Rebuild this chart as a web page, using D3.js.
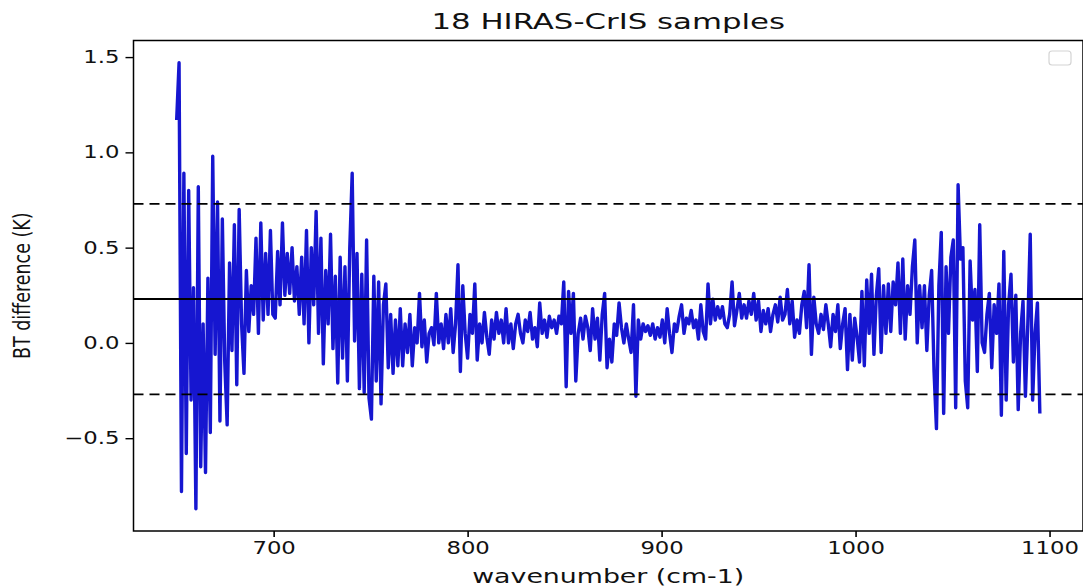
<!DOCTYPE html>
<html>
<head>
<meta charset="utf-8">
<script src="https://cdn.jsdelivr.net/npm/d3@7"></script>
<style>
  html, body { margin: 0; padding: 0; background: #fff; }
  svg { display: block; }
</style>
</head>
<body>
<svg id="chart" width="1083" height="588"></svg>
<script>
// ---------------- data ----------------
const chartTitle = "18 HIRAS-CrIS samples";
const xLabel = "wavenumber (cm-1)";
const yLabel = "BT difference (K)";
const xTicks = [700, 800, 900, 1000, 1100];
const yTicks = [-0.5, 0.0, 0.5, 1.0, 1.5];

// spectral grid: first and last wavenumber of the sampled spectrum (cm-1)
const wnFirst = 650;
const wnLast = 1095;

// BT difference (K), evenly spaced from wnFirst to wnLast
const btDiff = [
  // ~650-700
  1.17, 1.47, -0.78, 0.89, -0.58, 0.80, -0.30, 0.29, -0.87, 0.82,
  -0.65, 0.10, -0.68, 0.34, -0.47, 0.98, -0.06, 0.74, -0.41, 0.65,
  -0.10, -0.43, 0.42, -0.04, 0.62, -0.22, 0.70, 0.10, -0.16, 0.38,
  0.06, 0.30, 0.15, 0.55, 0.05, 0.63, 0.12, 0.47, 0.15, 0.59,
  0.15,
  // ~700-760
  0.13, 0.48, 0.20, 0.63, 0.25, 0.47, 0.26, 0.50, 0.22, 0.40,
  0.15, 0.45, 0.10, 0.59, 0.00, 0.50, 0.20, 0.69, 0.05, 0.55,
  -0.11, 0.38, 0.10, 0.57, -0.03, 0.35, -0.21, 0.45, -0.08, 0.40,
  -0.20, 0.50, 0.89, 0.01, 0.47, -0.24, 0.36, -0.26, 0.54, -0.29,
  -0.40, 0.35, -0.20, 0.32, -0.32, 0.20, 0.31, -0.13,
  // ~760-820
  0.15, -0.16, 0.12, -0.12, 0.18, -0.12, 0.10, -0.05, 0.15, -0.12,
  0.08, 0.00, 0.26, -0.02, 0.12, -0.10, 0.05, 0.08, -0.01, 0.26,
  0.00, 0.10, -0.03, 0.15, 0.00, 0.18, -0.05, 0.10, 0.41, -0.15,
  0.30, 0.05, -0.08, 0.15, 0.05, 0.31, -0.09, 0.10, 0.00, 0.16,
  0.03, -0.06, 0.12, 0.02, 0.16, 0.05, 0.12, 0.00,
  // ~820-900
  0.18, 0.00, 0.10, -0.03, 0.10, 0.15, 0.05, 0.00, 0.12, 0.06,
  0.16, 0.02, 0.08, -0.02, 0.21, 0.05, 0.12, 0.03, 0.14, 0.08,
  0.12, 0.05, 0.14, 0.10, 0.32, -0.23, 0.27, 0.05, 0.26, -0.20,
  0.05, 0.13, 0.02, 0.14, 0.08, -0.04, 0.18, 0.02, 0.13, -0.09,
  0.15, 0.26, -0.13, 0.02, -0.10, 0.10, 0.04, 0.21, 0.08, 0.00,
  0.10, 0.02, -0.05, 0.20, -0.28, 0.12, 0.02, 0.10, 0.06, 0.09,
  0.04, 0.10, 0.02, 0.08,
  // ~900-960
  0.03, 0.12, 0.00, 0.18, 0.05, -0.05, 0.10, 0.06, 0.14, 0.20,
  0.05, 0.13, 0.10, 0.17, 0.08, 0.12, 0.02, 0.20, 0.06, 0.02,
  0.31, 0.10, 0.23, 0.12, 0.19, 0.13, 0.19, 0.10, 0.08, 0.15,
  0.32, 0.09, 0.17, 0.26, 0.13, 0.20, 0.13, 0.22, 0.15, 0.26,
  0.12, 0.22, 0.06, 0.17, 0.10, 0.18, 0.06, 0.15,
  // ~960-1025
  0.20, 0.11, 0.24, 0.12, 0.15, 0.28, 0.10, 0.22, 0.03, 0.12,
  0.05, 0.20, 0.27, 0.08, 0.41, -0.06, 0.24, 0.10, 0.05, 0.15,
  0.07, 0.20, 0.10, -0.02, 0.15, 0.06, 0.20, -0.03, 0.10, 0.18,
  -0.14, 0.15, -0.09, 0.13, 0.03, -0.10, 0.27, -0.12, 0.33, 0.05,
  0.36, -0.06, 0.25, 0.39, -0.05, 0.30, 0.05, 0.31, 0.06, 0.32,
  0.20, 0.42,
  // ~1025-1095
  0.05, 0.44, 0.02, 0.30, 0.15, 0.40, 0.54, 0.00, 0.30, 0.08,
  0.30, -0.04, 0.25, 0.38, -0.15, -0.45, 0.30, 0.58, -0.37, 0.40,
  0.05, 0.45, 0.54, -0.34, 0.83, 0.44, 0.50, -0.20, -0.34, 0.43,
  0.12, 0.28, -0.15, 0.62, 0.00, -0.05, 0.15, 0.26, -0.13, 0.20,
  0.05, 0.31, -0.38, 0.48, -0.30, 0.20, 0.36, -0.10, 0.25, -0.35,
  0.05, 0.22, -0.28, 0.10, 0.57, -0.30, 0.05, 0.21, -0.37
];

const meanLevel = 0.23;            // solid horizontal line
const boundLevels = [0.73, -0.27]; // dashed horizontal lines

// ---------------- layout ----------------
const plot = { left: 133.5, right: 1083, top: 40.5, bottom: 531 };
const sx = 1.3;                  // horizontal stretch of the original figure
const lineColor = "#1616d0";
const fontFam = "'DejaVu Sans', Verdana, sans-serif";

const svg = d3.select("#chart");

const step = (wnLast - wnFirst) / (btDiff.length - 1);
const points = btDiff.map((v, i) => ({ wn: wnFirst + i * step, v }));

const xPad = 0.05 * (wnLast - wnFirst);
const x = d3.scaleLinear()
  .domain([wnFirst - xPad, wnLast + xPad])
  .range([plot.left, plot.right]);

const [vMin, vMax] = d3.extent(btDiff);
const yPad = 0.05 * (vMax - vMin);
const y = d3.scaleLinear()
  .domain([vMin - yPad, vMax + yPad])
  .range([plot.bottom, plot.top]);

// clip
svg.append("defs").append("clipPath").attr("id", "clip")
  .append("rect")
  .attr("x", plot.left).attr("y", plot.top)
  .attr("width", plot.right - plot.left).attr("height", plot.bottom - plot.top);

const gPlot = svg.append("g").attr("clip-path", "url(#clip)");

// spectrum line
const line = d3.line().x(d => x(d.wn)).y(d => y(d.v));
gPlot.append("path")
  .datum(points)
  .attr("fill", "none")
  .attr("stroke", lineColor)
  .attr("stroke-width", 3.4)
  .attr("stroke-linejoin", "round")
  .attr("d", line);

// horizontal reference lines
gPlot.append("line")
  .attr("x1", plot.left).attr("x2", plot.right)
  .attr("y1", y(meanLevel)).attr("y2", y(meanLevel))
  .attr("stroke", "#000").attr("stroke-width", 2);

gPlot.selectAll(".bound").data(boundLevels).join("line")
  .attr("class", "bound")
  .attr("x1", plot.left).attr("x2", plot.right)
  .attr("y1", d => y(d)).attr("y2", d => y(d))
  .attr("stroke", "#000").attr("stroke-width", 1.8)
  .attr("stroke-dasharray", "10,6");

// axes
const gx = svg.append("g")
  .attr("transform", `translate(0,${plot.bottom})`)
  .call(d3.axisBottom(x).tickValues(xTicks).tickSize(6).tickPadding(5).tickFormat(d3.format("d")));
gx.select(".domain").remove();
gx.selectAll(".tick line").attr("stroke", "#000").attr("stroke-width", 1.6);
gx.selectAll(".tick text")
  .attr("font-family", fontFam).attr("font-size", 17.5).attr("fill", "#111")
  .attr("transform", `scale(${sx},1)`);

const ytLen = 8, ytPad = 6;
const gy = svg.append("g")
  .attr("transform", `translate(${plot.left},0)`)
  .call(d3.axisLeft(y).tickValues(yTicks).tickSize(ytLen).tickPadding(ytPad).tickFormat(d3.format(".1f")));
gy.select(".domain").remove();
gy.selectAll(".tick line").attr("stroke", "#000").attr("stroke-width", 1.4);
gy.selectAll(".tick text")
  .attr("font-family", fontFam).attr("font-size", 17.5).attr("fill", "#111")
  .attr("x", -(ytLen + ytPad) / sx)
  .attr("transform", `scale(${sx},1)`);

// frame
svg.append("rect")
  .attr("x", plot.left).attr("y", plot.top)
  .attr("width", plot.right - plot.left).attr("height", plot.bottom - plot.top)
  .attr("fill", "none").attr("stroke", "#000").attr("stroke-width", 1.5);

// empty legend box
svg.append("rect")
  .attr("x", 1049).attr("y", 51)
  .attr("width", 22).attr("height", 14)
  .attr("rx", 3).attr("ry", 3)
  .attr("fill", "#fff").attr("stroke", "#d4d4d4").attr("stroke-width", 1.2);

// title
const cx = (plot.left + plot.right) / 2;
svg.append("text")
  .attr("transform", `translate(${cx},29) scale(1.4,1)`)
  .attr("text-anchor", "middle")
  .attr("font-family", fontFam).attr("font-size", 22).attr("fill", "#111")
  .text(chartTitle);

// x label
svg.append("text")
  .attr("transform", `translate(${cx},583) scale(1.34,1)`)
  .attr("text-anchor", "middle")
  .attr("font-family", fontFam).attr("font-size", 20).attr("fill", "#111")
  .text(xLabel);

// y label
svg.append("text")
  .attr("transform", `translate(30,${(plot.top + plot.bottom) / 2}) scale(${sx},1) rotate(-90)`)
  .attr("text-anchor", "middle")
  .attr("font-family", fontFam).attr("font-size", 17.5).attr("fill", "#111")
  .text(yLabel);
</script>
</body>
</html>
